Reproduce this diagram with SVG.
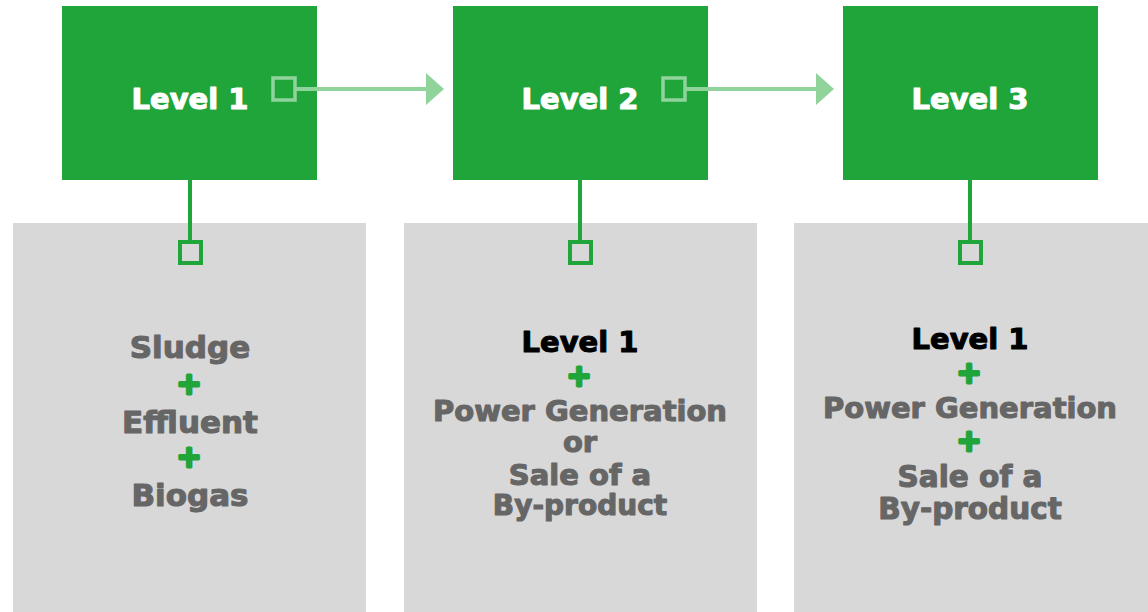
<svg xmlns="http://www.w3.org/2000/svg" width="1148" height="612" viewBox="0 0 1148 612">
<defs>
<style>
.lvl{fill:#1fa53a}
.panel{fill:#d8d8d8}
.t{font-family:"DejaVu Sans","Liberation Sans",sans-serif;font-weight:bold;text-anchor:middle;stroke-width:1.1px;stroke-linejoin:round}
.hw{fill:#ffffff;stroke:#ffffff;font-size:29px}
.g{fill:#666666;stroke:#666666}
.k{fill:#000000;stroke:#000000}
.plus{fill:#1fa53a;stroke:#1fa53a;stroke-width:3px;font-size:30px}
.hl{stroke:#90d49c;stroke-width:4;fill:none}
.hs{stroke:#90d49c;stroke-width:3.5;fill:none}
.vl{stroke:#1fa53a;stroke-width:4;fill:none}
.vs{stroke:#1fa53a;stroke-width:4;fill:none}
</style>
<marker id="ah" markerWidth="5" markerHeight="8" refX="0.5" refY="4" orient="auto" markerUnits="strokeWidth">
<path d="M0,0 L4.5,4 L0,8 Z" fill="#90d49c"/>
</marker>
</defs>
<rect width="1148" height="612" fill="#ffffff"/>

<g id="node-level1">
<rect class="lvl" x="62" y="6" width="255" height="174"/>
<text class="t hw" x="190" y="109">Level 1</text>
</g>
<g id="node-level2">
<rect class="lvl" x="453" y="6" width="255" height="174"/>
<text class="t hw" x="580" y="109">Level 2</text>
</g>
<g id="node-level3">
<rect class="lvl" x="843" y="6" width="255" height="174"/>
<text class="t hw" x="970" y="109">Level 3</text>
</g>

<g id="panel-1">
<rect class="panel" x="13" y="223" width="353" height="389"/>
<text class="t g" x="190" y="358" font-size="31">Sludge</text>
<text class="t plus" x="189" y="394">+</text>
<text class="t g" x="190" y="433" font-size="31">Effluent</text>
<text class="t plus" x="189" y="467">+</text>
<text class="t g" x="190" y="506" font-size="31">Biogas</text>
</g>
<g id="panel-2">
<rect class="panel" x="404" y="223" width="353" height="389"/>
<text class="t k" x="580" y="352" font-size="29">Level 1</text>
<text class="t plus" x="579" y="386">+</text>
<text class="t g" x="580" y="421" font-size="29">Power Generation</text>
<text class="t g" x="580" y="452" font-size="29">or</text>
<text class="t g" x="580" y="485" font-size="29">Sale of a</text>
<text class="t g" x="580" y="515" font-size="28">By-product</text>
</g>
<g id="panel-3">
<rect class="panel" x="794" y="223" width="354" height="389"/>
<text class="t k" x="970" y="349" font-size="29">Level 1</text>
<text class="t plus" x="969" y="383">+</text>
<text class="t g" x="970" y="418" font-size="29">Power Generation</text>
<text class="t plus" x="969" y="451">+</text>
<text class="t g" x="970" y="487" font-size="29.5">Sale of a</text>
<text class="t g" x="970" y="519" font-size="29.5">By-product</text>
</g>

<g id="connectors">
<rect class="hs" x="273" y="78" width="22" height="22"/>
<line class="hl" x1="295" y1="89" x2="428" y2="89" marker-end="url(#ah)"/>
<rect class="hs" x="663" y="78" width="22" height="22"/>
<line class="hl" x1="685" y1="89" x2="818" y2="89" marker-end="url(#ah)"/>
<line class="vl" x1="190" y1="180" x2="190" y2="240"/>
<rect class="vs" x="180" y="242" width="21" height="21"/>
<line class="vl" x1="580" y1="180" x2="580" y2="240"/>
<rect class="vs" x="570" y="242" width="21" height="21"/>
<line class="vl" x1="970" y1="180" x2="970" y2="240"/>
<rect class="vs" x="960" y="242" width="21" height="21"/>
</g>
</svg>
